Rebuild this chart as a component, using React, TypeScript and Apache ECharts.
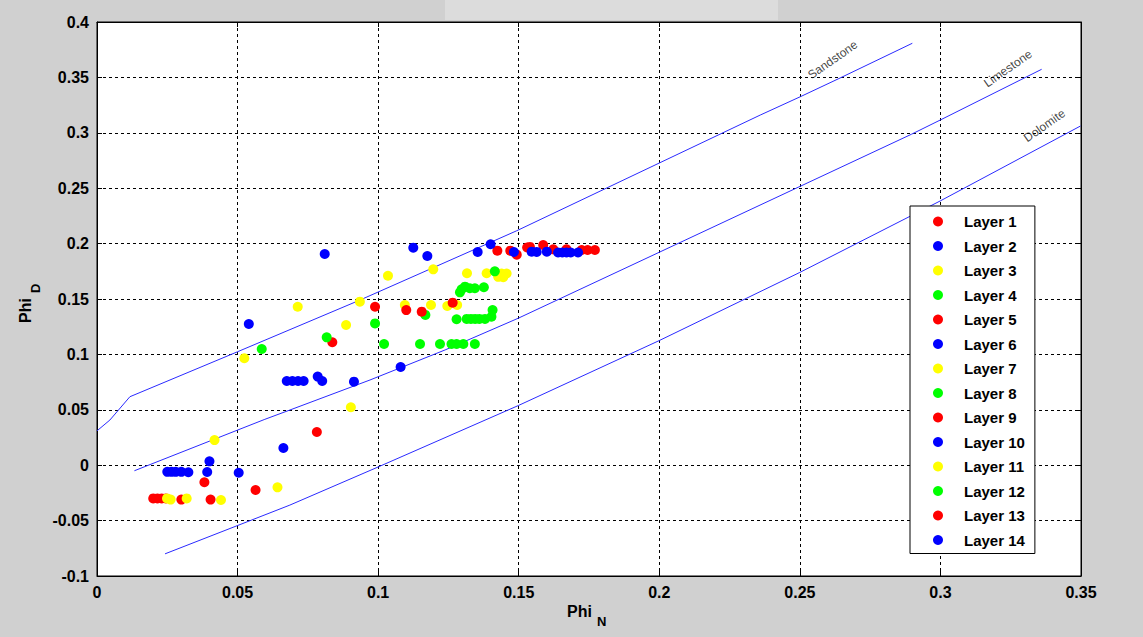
import React, { useEffect, useRef } from "react";
import * as echarts from "echarts";

// ---- Data (Phi_N, Phi_D) ----
const layerNames = [
  "Layer 1", "Layer 2", "Layer 3", "Layer 4", "Layer 5", "Layer 6", "Layer 7",
  "Layer 8", "Layer 9", "Layer 10", "Layer 11", "Layer 12", "Layer 13", "Layer 14",
];
const layerColors = [
  "#ff0000", "#0000ff", "#ffff00", "#00ff00", "#ff0000", "#0000ff", "#ffff00",
  "#00ff00", "#ff0000", "#0000ff", "#ffff00", "#00ff00", "#ff0000", "#0000ff",
];

const layer1 = [[0.1530, 0.1965], [0.1540, 0.1970], [0.1587, 0.1987], [0.1623, 0.1948], [0.1670, 0.1948], [0.1724, 0.1942], [0.1745, 0.1942], [0.1771, 0.1942]];
const layer2 = [[0.1546, 0.1927], [0.1564, 0.1925], [0.1600, 0.1927], [0.1640, 0.1920], [0.1655, 0.1920], [0.1670, 0.1920], [0.1685, 0.1920], [0.1711, 0.1920]];
const layer3 = [[0.1316, 0.1732], [0.1386, 0.1732], [0.1427, 0.1700], [0.1439, 0.1730], [0.1457, 0.1730], [0.1445, 0.1696]];
const layer4 = [[0.1291, 0.1560], [0.1297, 0.1588], [0.1309, 0.1611], [0.1326, 0.1597], [0.1344, 0.1597], [0.1376, 0.1606], [0.1415, 0.1750]];
const layer5 = [[0.1424, 0.1936], [0.1470, 0.1936], [0.1493, 0.1900]];
const layer6 = [[0.0810, 0.1906], [0.1125, 0.1963], [0.1175, 0.1888], [0.1354, 0.1924], [0.1400, 0.1994], [0.1483, 0.1924]];
const layer7 = [[0.0714, 0.1430], [0.0886, 0.1265], [0.0935, 0.1476], [0.1035, 0.1710], [0.1095, 0.1446], [0.1188, 0.1446], [0.1196, 0.1768], [0.1246, 0.1437], [0.1281, 0.1446]];
const layer8 = [[0.0989, 0.1280], [0.1168, 0.1356], [0.1279, 0.1317], [0.1315, 0.1320], [0.1330, 0.1320], [0.1345, 0.1320], [0.1360, 0.1320], [0.1380, 0.1320], [0.1403, 0.1340], [0.1407, 0.1400]];
const layer9 = [[0.0837, 0.1110], [0.0989, 0.1430], [0.1100, 0.1400], [0.1155, 0.1386], [0.1265, 0.1467], [0.0782, 0.0300]];
const layer10 = [[0.0540, 0.1274], [0.0675, 0.0760], [0.0695, 0.0760], [0.0715, 0.0760], [0.0735, 0.0760], [0.0785, 0.0800], [0.0801, 0.0760], [0.0914, 0.0754], [0.1080, 0.0886]];
const layer11 = [[0.0524, 0.0965], [0.0903, 0.0523], [0.0418, 0.0227], [0.0642, -0.0200], [0.0249, -0.0300], [0.0262, -0.0310], [0.0319, -0.0300], [0.0441, -0.0314]];
const layer12 = [[0.0586, 0.1049], [0.0817, 0.1154], [0.1021, 0.1094], [0.1149, 0.1094], [0.1220, 0.1094], [0.1261, 0.1094], [0.1279, 0.1094], [0.1303, 0.1094], [0.1344, 0.1094]];
const layer13 = [[0.0200, -0.0300], [0.0215, -0.0300], [0.0230, -0.0300], [0.0245, -0.0300], [0.0300, -0.0310], [0.0382, -0.0154], [0.0404, -0.0310], [0.0564, -0.0224]];
const layer14 = [[0.0250, -0.0060], [0.0265, -0.0060], [0.0280, -0.0060], [0.0300, -0.0060], [0.0325, -0.0064], [0.0392, -0.0061], [0.0400, 0.0035], [0.0504, -0.0068], [0.0663, 0.0155]];

const layers = [layer1, layer2, layer3, layer4, layer5, layer6, layer7, layer8, layer9, layer10, layer11, layer12, layer13, layer14];

// Lithology lines
const sandstoneLine = [[0, 0.031], [0.0046, 0.0408], [0.0117, 0.0618], [0.05, 0.1024], [0.0935, 0.149], [0.1493, 0.2116], [0.2359, 0.316], [0.2502, 0.3326], [0.2636, 0.3486], [0.29, 0.3808]];
const limestoneLine = [[0.0133, -0.005], [0.0597, 0.0414], [0.0686, 0.0498], [0.0971, 0.0769], [0.1238, 0.104], [0.1498, 0.1326], [0.2897, 0.2987], [0.3, 0.3116], [0.336, 0.3573]];
const dolomiteLine = [[0.0242, -0.080], [0.055, -0.0495], [0.0686, -0.036], [0.1, -0.0016], [0.15, 0.054], [0.2, 0.1125], [0.25, 0.174], [0.3, 0.2386], [0.3498, 0.3061]];

const lineLabels = [
  { name: "Sandstone", value: [0.2617, 0.3660] },
  { name: "Limestone", value: [0.324, 0.3580] },
  { name: "Dolomite", value: [0.337, 0.3065] },
];

const xTicks = { min: 0, max: 0.35, interval: 0.05 };
const yTicks = { min: -0.1, max: 0.4, interval: 0.05 };

const FONT = "'Liberation Sans', Arial, Helvetica, sans-serif";

function fmt(v: number) {
  return String(parseFloat(v.toFixed(3)));
}

export default function App() {
  const ref = useRef<HTMLDivElement>(null);
  useEffect(() => {
    if (!ref.current) return;
    const chart = echarts.init(ref.current, null, { renderer: "svg" });

    const lineStyle = { color: "#2a2aff", width: 1 };
    const series: any[] = layers.map((d, i) => ({
      name: layerNames[i],
      type: "scatter",
      data: d,
      symbol: "circle",
      symbolSize: 10,
      itemStyle: { color: layerColors[i], opacity: 1 },
      z: i === 10 ? 4 : 3,
    }));
    series.push(
      { type: "line", data: sandstoneLine, symbol: "none", lineStyle, z: 2, silent: true },
      { type: "line", data: limestoneLine, symbol: "none", lineStyle, z: 2, silent: true },
      { type: "line", data: dolomiteLine, symbol: "none", lineStyle, z: 2, silent: true },
      {
        type: "scatter",
        data: lineLabels,
        symbolSize: 0,
        silent: true,
        label: {
          show: true,
          formatter: (p: any) => p.name,
          rotate: 35,
          position: "inside",
          color: "#111",
          fontSize: 12,
          fontFamily: FONT,
        },
      }
    );

    const axisLabel = {
      fontFamily: FONT,
      fontWeight: "bold",
      fontSize: 16,
      color: "#000",
      formatter: (v: number) => fmt(v),
    };

    chart.setOption({
      animation: false,
      backgroundColor: "#d0d0d0",
      grid: {
        left: 97,
        top: 22,
        right: 62,
        bottom: 61,
        show: true,
        backgroundColor: "#ffffff",
        borderColor: "#000",
        borderWidth: 1,
      },
      xAxis: [
        {
          type: "value",
          ...xTicks,
          axisLine: { show: true, onZero: false, lineStyle: { color: "#000" } },
          axisTick: { show: true, inside: true, length: 5, lineStyle: { color: "#000" } },
          splitLine: { show: true, lineStyle: { color: "#000", type: [3, 3], width: 1 } },
          axisLabel: { ...axisLabel, margin: 8 },
        },
        {
          type: "value",
          position: "top",
          ...xTicks,
          axisLine: { show: true, onZero: false, lineStyle: { color: "#000" } },
          axisTick: { show: true, inside: true, length: 5, lineStyle: { color: "#000" } },
          splitLine: { show: false },
          axisLabel: { show: false },
        },
      ],
      yAxis: [
        {
          type: "value",
          ...yTicks,
          axisLine: { show: true, onZero: false, lineStyle: { color: "#000" } },
          axisTick: { show: true, inside: true, length: 5, lineStyle: { color: "#000" } },
          splitLine: { show: true, lineStyle: { color: "#000", type: [3, 3], width: 1 } },
          axisLabel: { ...axisLabel, margin: 8 },
        },
        {
          type: "value",
          position: "right",
          ...yTicks,
          axisLine: { show: true, onZero: false, lineStyle: { color: "#000" } },
          axisTick: { show: true, inside: true, length: 5, lineStyle: { color: "#000" } },
          splitLine: { show: false },
          axisLabel: { show: false },
        },
      ],
      legend: {
        data: layerNames,
        orient: "vertical",
        left: 910,
        top: 206,
        width: 136,
        padding: [8, 10, 6, 23],
        itemGap: 9.5,
        itemWidth: 10,
        itemHeight: 10,
        icon: "circle",
        selectedMode: false,
        backgroundColor: "#ffffff",
        borderColor: "#000",
        borderWidth: 1,
        itemStyle: { opacity: 1 },
        textStyle: {
          fontFamily: FONT,
          fontWeight: "bold",
          fontSize: 15,
          color: "#000",
          padding: [0, 0, 0, 16],
        },
      },
      graphic: [
        { type: "rect", left: 445, top: 0, shape: { width: 333, height: 20 }, style: { fill: "#dcdcdc" }, silent: true },
        {
          type: "text",
          left: 567,
          top: 603,
          style: { text: "Phi", font: `bold 16px ${FONT}`, fill: "#000" },
        },
        {
          type: "text",
          left: 597,
          top: 615,
          style: { text: "N", font: `bold 13px ${FONT}`, fill: "#000" },
        },
        {
          type: "text",
          x: 17,
          y: 323,
          rotation: Math.PI / 2,
          style: { text: "Phi", font: `bold 16px ${FONT}`, fill: "#000", align: "left", verticalAlign: "top" },
        },
        {
          type: "text",
          x: 29,
          y: 293,
          rotation: Math.PI / 2,
          style: { text: "D", font: `bold 13px ${FONT}`, fill: "#000", align: "left", verticalAlign: "top" },
        },
      ],
      series,
    });
    return () => chart.dispose();
  }, []);
  return (
    <div
      ref={ref}
      style={{ position: "absolute", left: 0, top: 0, width: 1143, height: 637 }}
    />
  );
}
